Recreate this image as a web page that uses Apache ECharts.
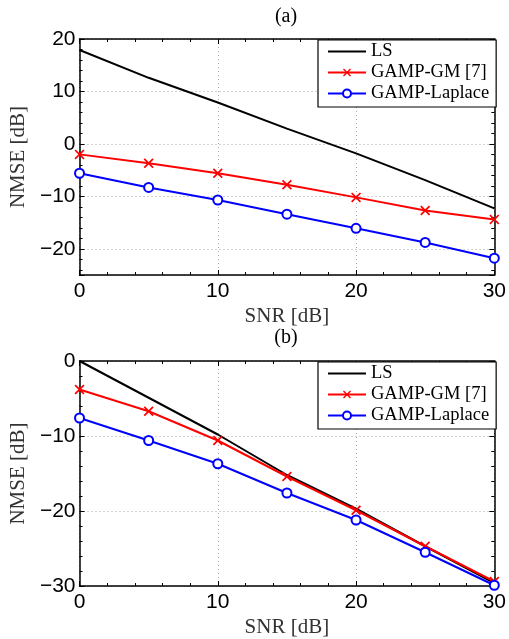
<!DOCTYPE html>
<html><head><meta charset="utf-8">
<script src="https://cdn.jsdelivr.net/npm/echarts@6/dist/echarts.min.js"></script>
<style>html,body{margin:0;padding:0;background:#fff}#c{width:509px;height:639px}</style>
</head><body><div id="c"></div>
<script>
const snr = [0, 5, 10, 15, 20, 25, 30];
// Panel (a)
const lsA = [17.9, 12.6, 7.9, 2.9, -1.8, -6.9, -12.3];
const gmA = [-2.0, -3.7, -5.6, -7.8, -10.2, -12.7, -14.4];
const lapA = [-5.6, -8.3, -10.7, -13.4, -16.1, -18.8, -21.8];
// Panel (b)
const lsB = [0.0, -4.9, -9.8, -15.2, -19.7, -24.7, -29.6];
const gmB = [-3.8, -6.7, -10.6, -15.4, -19.9, -24.7, -29.4];
const lapB = [-7.6, -10.6, -13.7, -17.6, -21.2, -25.5, -29.9];
const names = ['LS', 'GAMP-GM [7]', 'GAMP-Laplace'];
const panelTitles = ['(a)', '(b)'];
const xTitle = 'SNR [dB]';
const yTitle = 'NMSE [dB]';

const pair = (xs, ys) => xs.map((x, i) => [x, ys[i]]);
const minus = v => String(v).replace('-', '\u2212');
const crossPath = 'path://M0,1.2 L1.2,0 L5,3.8 L8.8,0 L10,1.2 L6.2,5 L10,8.8 L8.8,10 L5,6.2 L1.2,10 L0,8.8 L3.8,5 Z';

const grids = [
  {left: 78, right: 14, top: 39, height: 236},
  {left: 78, right: 14, top: 361, height: 226}
];
const yRanges = [{min: -25, max: 20}, {min: -30, max: 0, interval: 10}];

const xAxes = [], yAxes = [];
grids.forEach((g, gi) => {
  xAxes.push({
    type: 'value', gridIndex: gi, min: 0, max: 30, interval: 10, position: 'bottom',
    name: xTitle, nameLocation: 'middle', nameGap: 31,
    nameTextStyle: {fontFamily: 'Liberation Serif', fontSize: 21, color: '#333'},
    axisLine: {show: true, onZero: false, lineStyle: {color: '#000', width: 1.5}},
    axisTick: {show: true, inside: true, length: 5, lineStyle: {color: '#000'}},
    minorTick: {show: true, splitNumber: 5, length: 3, lineStyle: {color: '#000'}},
    axisLabel: {fontFamily: 'Liberation Sans', fontSize: 21, color: '#000', margin: 6, formatter: minus},
    splitLine: {show: true, lineStyle: {color: '#aaa', type: [1, 3], width: 1}}
  });
  xAxes.push({
    type: 'value', gridIndex: gi, min: 0, max: 30, interval: 10, position: 'top',
    axisLine: {show: true, onZero: false, lineStyle: {color: '#000', width: 1.5}},
    axisTick: {show: true, inside: true, length: 5, lineStyle: {color: '#000'}},
    minorTick: {show: true, splitNumber: 5, length: 3, lineStyle: {color: '#000'}},
    axisLabel: {show: false}, splitLine: {show: false}
  });
  const yr = yRanges[gi];
  const yBase = {type: 'value', gridIndex: gi, min: yr.min, max: yr.max};
  if (yr.interval) yBase.interval = yr.interval;
  yAxes.push(Object.assign({}, yBase, {
    position: 'left',
    name: yTitle, nameLocation: 'middle', nameGap: 47,
    nameTextStyle: {fontFamily: 'Liberation Serif', fontSize: 21, color: '#333'},
    axisLine: {show: true, onZero: false, lineStyle: {color: '#000', width: 1.5}},
    axisTick: {show: true, inside: true, length: 5, lineStyle: {color: '#000'}},
    minorTick: {show: true, splitNumber: 5, length: 3, lineStyle: {color: '#000'}},
    axisLabel: {fontFamily: 'Liberation Sans', fontSize: 21, color: '#000', margin: 4,
      showMinLabel: gi === 1, formatter: minus},
    splitLine: {show: true, lineStyle: {color: '#aaa', type: [1, 3], width: 1}}
  }));
  yAxes.push(Object.assign({}, yBase, {
    position: 'right',
    axisLine: {show: true, onZero: false, lineStyle: {color: '#000', width: 1.5}},
    axisTick: {show: true, inside: true, length: 5, lineStyle: {color: '#000'}},
    minorTick: {show: true, splitNumber: 5, length: 3, lineStyle: {color: '#000'}},
    axisLabel: {show: false}, splitLine: {show: false}
  }));
});

function mkSeries(gi, ls, gm, lap) {
  return [
    {name: names[0], type: 'line', xAxisIndex: gi * 2, yAxisIndex: gi * 2, data: pair(snr, ls),
     showSymbol: false, symbol: 'none', color: '#000', lineStyle: {width: 2, color: '#000'}, z: 3},
    {name: names[1], type: 'line', xAxisIndex: gi * 2, yAxisIndex: gi * 2, data: pair(snr, gm),
     symbol: crossPath, symbolSize: 10, color: '#ff0000',
     itemStyle: {color: '#ff0000'}, lineStyle: {width: 2, color: '#ff0000'}, z: 4},
    {name: names[2], type: 'line', xAxisIndex: gi * 2, yAxisIndex: gi * 2, data: pair(snr, lap),
     symbol: 'circle', symbolSize: 9, color: '#0000ff',
     itemStyle: {color: '#fff', borderColor: '#0000ff', borderWidth: 2}, lineStyle: {width: 2, color: '#0000ff'}, z: 5}
  ];
}

const legendBase = {
  orient: 'vertical', left: 318, itemWidth: 38, itemHeight: 10, itemGap: 2,
  padding: [2, 7, 4, 9], backgroundColor: '#fff', borderColor: '#000', borderWidth: 1.2, borderRadius: 0,
  textStyle: {fontFamily: 'Liberation Serif', fontSize: 18.5, lineHeight: 19, color: '#000'},
  data: [{name: names[0], itemStyle: {opacity: 0}}, names[1], names[2]]
};

const chart = echarts.init(document.getElementById('c'), null, {renderer: 'canvas'});
chart.setOption({
  animation: false,
  backgroundColor: '#fff',
  grid: grids,
  xAxis: xAxes,
  yAxis: yAxes,
  legend: [
    Object.assign({}, legendBase, {top: 40}),
    Object.assign({}, legendBase, {top: 362})
  ],
  graphic: [
    {type: 'text', x: 286, y: 17, style: {text: panelTitles[0], font: '20px "Liberation Serif"', fill: '#000', align: 'center', verticalAlign: 'middle'}},
    {type: 'text', x: 286, y: 338, style: {text: panelTitles[1], font: '20px "Liberation Serif"', fill: '#000', align: 'center', verticalAlign: 'middle'}}
  ],
  series: [].concat(mkSeries(0, lsA, gmA, lapA), mkSeries(1, lsB, gmB, lapB))
});
</script></body></html>
